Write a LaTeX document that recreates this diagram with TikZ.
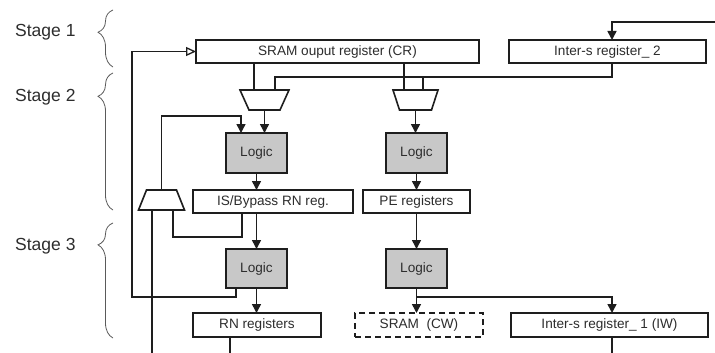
\documentclass[tikz,border=0pt]{standalone}
\usepackage{fontspec}
\setmainfont{Liberation Sans}
\usetikzlibrary{arrows.meta,decorations.pathreplacing}
\definecolor{ink}{RGB}{30,30,30}
\definecolor{txt}{RGB}{45,45,45}
\definecolor{logicfill}{RGB}{200,200,200}
\definecolor{bracegray}{RGB}{90,90,90}
\tikzset{
  reg/.style={draw=ink, line width=1.8pt, fill=white, inner sep=0pt, outer sep=0pt,
    text=txt, font=\fontsize{13.6}{15}\selectfont},
  logicbox/.style={reg, fill=logicfill, minimum width=61pt, minimum height=40pt},
  muxframe/.style={inner sep=0pt, outer sep=0pt, minimum height=20pt},
  muxline/.style={draw=ink, line width=1.6pt, line join=miter, fill=white},
  wire/.style={draw=ink, line width=1.5pt},
  arr/.style={wire, -{Triangle[length=9pt,width=9pt]}},
  openarr/.style={wire, -{Triangle[open,length=10pt,width=9pt,line width=1.3pt]}},
  stagelbl/.style={anchor=base west, inner sep=0pt, text=txt, font=\fontsize{17.5}{20}\selectfont},
  stagebrace/.style={draw=bracegray, line width=0.8pt, decorate},
}
\begin{document}
\begin{tikzpicture}[x=1pt,y=-1pt]
\useasboundingbox (0,0) rectangle (715,353);

% stage labels and braces
\node[stagelbl] (s1) at (15,37) {Stage 1};
\node[stagelbl] (s2) at (15,101) {Stage 2};
\node[stagelbl] (s3) at (15,250) {Stage 3};
\draw[stagebrace, decoration={brace, amplitude=15pt, aspect=0.61}] (113,67) -- (113,10);
\draw[stagebrace, decoration={brace, amplitude=15pt, aspect=0.83}] (113,210) -- (113,73);
\draw[stagebrace, decoration={brace, amplitude=15pt, aspect=0.81}] (113,338) -- (113,223);

% registers
\node[reg, minimum width=283pt, minimum height=23pt] (CR) at (337.5,51.5) {SRAM ouput register (CR)};
\node[reg, minimum width=197pt, minimum height=23pt] (IS2) at (607.5,51.5) {Inter-s register\_ 2};
\node[reg, minimum width=160pt, minimum height=23pt] (ISB) at (273,201.5) {IS/Bypass RN reg.};
\node[reg, minimum width=107pt, minimum height=23pt] (PE) at (416.5,201.5) {PE registers};
\node[reg, minimum width=128pt, minimum height=24pt] (RN) at (257,325) {RN registers};
\node[reg, dashed, dash pattern=on 6pt off 4pt, minimum width=128pt, minimum height=24pt] (SCW) at (419,325) {SRAM\ \ (CW)};
\node[reg, minimum width=197pt, minimum height=24pt] (IS1) at (609.5,325) {Inter-s register\_ 1 (IW)};

% logic blocks
\node[logicbox] (L1) at (256.5,153) {Logic};
\node[logicbox] (L2) at (416.5,153) {Logic};
\node[logicbox, minimum height=39pt] (L3) at (256.5,268.5) {Logic};
\node[logicbox, minimum height=39pt] (L4) at (416.5,268.5) {Logic};

% multiplexers: a frame node per mux, outlined as a trapezoid
\node[muxframe, minimum width=49pt] (muxA) at (264.5,100) {};
\node[muxframe, minimum width=45pt] (muxB) at (415.5,100) {};
\node[muxframe, minimum width=46pt] (muxC) at (161.5,200) {};
\draw[muxline] (muxA.north west) -- (muxA.north east)
  -- ([xshift=-9pt]muxA.south east) -- ([xshift=9pt]muxA.south west) -- cycle;
\draw[muxline] (muxB.north west) -- (muxB.north east)
  -- ([xshift=-6.5pt]muxB.south east) -- ([xshift=6.5pt]muxB.south west) -- cycle;
\draw[muxline] ([xshift=8pt]muxC.north west) -- ([xshift=-8pt]muxC.north east)
  -- (muxC.south east) -- (muxC.south west) -- cycle;

% free ends at the picture edge
\coordinate (extIn) at (715,22);
\coordinate (extOut) at (715,353.4);
\coordinate (loopLow) at (152,353.4);
\coordinate (fbCorner) at (132,297);

% stage 1 inputs
\draw[arr] (extIn) -| ([xshift=4.5pt]IS2.north);
\draw[openarr] ([xshift=-20.5pt]L3.south) |- (fbCorner) |- (CR.west);

% into the multiplexers
\draw[wire] ([xshift=-10.5pt]muxA.north |- CR.south) -- ([xshift=-10.5pt]muxA.north);
\draw[wire] ([xshift=-11.5pt]muxB.north |- CR.south) -- ([xshift=-11.5pt]muxB.north);
\draw[wire] ([xshift=4.5pt]IS2.south) -- ++(0,14) -| ([xshift=10.5pt]muxA.north);
\draw[wire] ([xshift=7.5pt]muxB.north) -- ++(0,-13);

% left column
\draw[arr] (muxA.south) -- (muxA.south |- L1.north);
\draw[arr] (muxC.north) -- ++(0,-74) -| ([xshift=-15.5pt]L1.north);
\draw[arr] (L1.south) -- (L1.south |- ISB.north);
\draw[arr] (L3.north |- ISB.south) -- (L3.north);
\draw[wire] ([xshift=-31pt]ISB.south) -- ++(0,24) -| ([xshift=11.5pt]muxC.south);
\draw[arr] (L3.south) -- (L3.south |- RN.north);
\draw[wire] ([xshift=-27pt]RN.south) |- (loopLow) -- ([xshift=-9.5pt]muxC.south);

% right column
\draw[arr] (muxB.south) -- (muxB.south |- L2.north);
\draw[arr] (L2.south) -- (L2.south |- PE.north);
\draw[arr] (L4.north |- PE.south) -- (L4.north);
\draw[arr] (L4.south) -- (L4.south |- SCW.north);
\draw[arr] (L4.south) -- ++(0,9) -| ([xshift=2.5pt]IS1.north);
\draw[wire] ([xshift=2.5pt]IS1.south) |- (extOut);
\end{tikzpicture}
\end{document}
